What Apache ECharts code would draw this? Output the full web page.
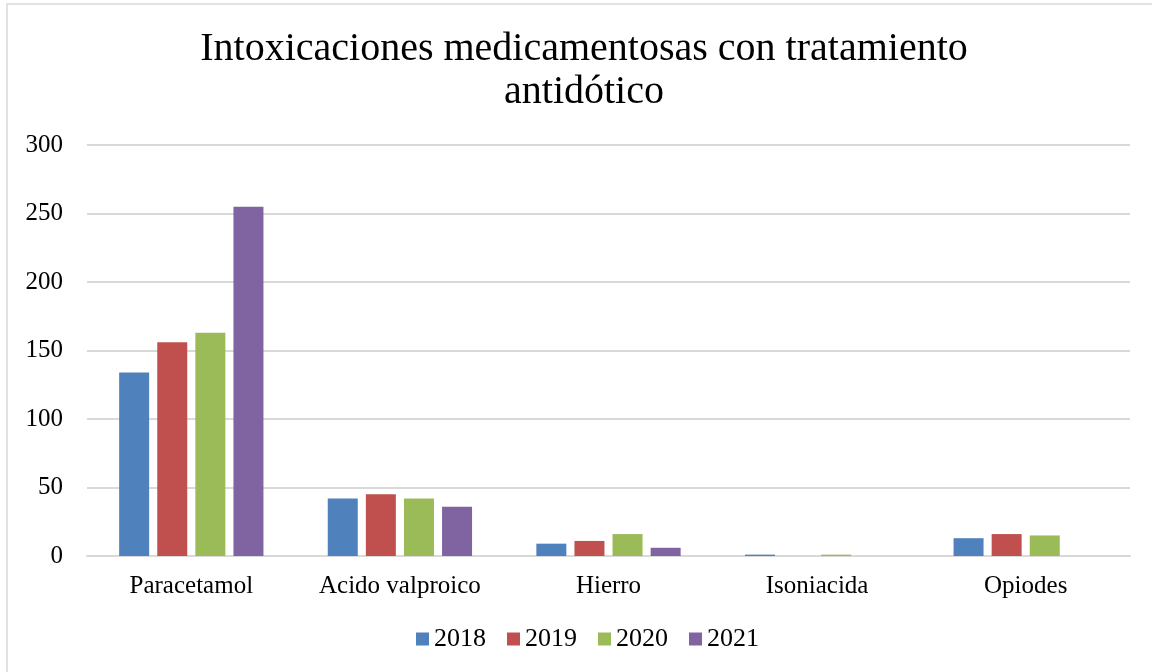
<!DOCTYPE html>
<html><head><meta charset="utf-8">
<script src="https://cdn.jsdelivr.net/npm/echarts@6/dist/echarts.min.js"></script>
<style>html,body{margin:0;padding:0;background:#fff}#c{width:1152px;height:672px}</style>
</head><body><div id="c"></div>
<script>
const categories = ['Paracetamol', 'Acido valproico', 'Hierro', 'Isoniacida', 'Opiodes'];
const years = ['2018', '2019', '2020', '2021'];
const v2018 = [134, 42, 9, 1, 13];
const v2019 = [156, 45, 11, 0, 16];
const v2020 = [163, 42, 16, 1, 15];
const v2021 = [255, 36, 6, 0, 0];
const yTicks = [0, 50, 100, 150, 200, 250, 300];

const colors = ['#4F81BD', '#C0504D', '#9BBB59', '#8064A2'];
const values = [v2018, v2019, v2020, v2021];
const FONT = '"Liberation Serif", serif';

const chart = echarts.init(document.getElementById('c'), null, {renderer: 'canvas'});
chart.setOption({
  backgroundColor: '#fff',
  animation: false,
  title: {
    text: 'Intoxicaciones medicamentosas con tratamiento\nantidótico',
    left: 584, top: 28, textAlign: 'center', padding: 0,
    textStyle: {fontFamily: FONT, fontSize: 40, fontWeight: 'normal', color: '#000', lineHeight: 43, align: 'center'}
  },
  legend: {
    data: years, left: 416, top: 626, itemWidth: 13, itemHeight: 13, itemGap: 21,
    icon: 'rect', padding: 0,
    textStyle: {fontFamily: FONT, fontSize: 26, color: '#000'}
  },
  graphic: [{
    type: 'rect', shape: {x: 7, y: 4, width: 1170, height: 700},
    style: {fill: 'none', stroke: '#d9d9d9', lineWidth: 1.5}, silent: true
  }],
  grid: {left: 87, right: 22, top: 145, bottom: 116, containLabel: false},
  xAxis: {
    type: 'category', data: categories,
    axisLine: {show: true, lineStyle: {color: '#d9d9d9', width: 2}},
    axisTick: {show: false},
    axisLabel: {fontFamily: FONT, fontSize: 25, color: '#000', margin: 18, interval: 0}
  },
  yAxis: {
    type: 'value', min: yTicks[0], max: yTicks[yTicks.length - 1], interval: 50,
    axisLine: {show: false}, axisTick: {show: false},
    splitLine: {lineStyle: {color: '#d9d9d9', width: 2}},
    axisLabel: {fontFamily: FONT, fontSize: 25, color: '#000', margin: 24}
  },
  series: years.map((y, i) => ({
    name: y, type: 'bar', data: values[i], barWidth: 30, barGap: '27%',
    itemStyle: {color: colors[i], borderWidth: 0}
  }))
});
</script></body></html>
